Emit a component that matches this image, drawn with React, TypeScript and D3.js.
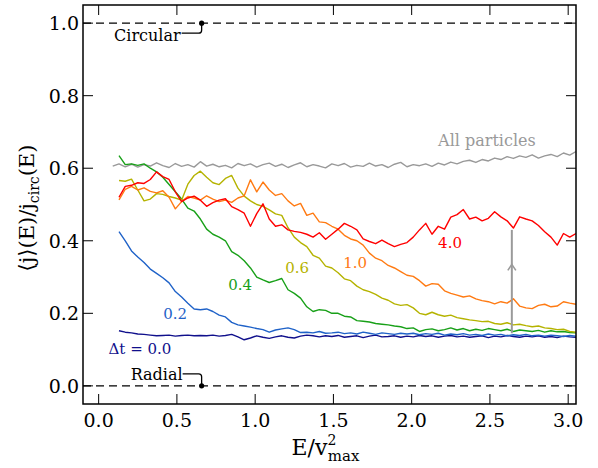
import React from "react";
import * as d3 from "d3";

// E grid: Δt curves start at 0.13, "All particles" at 0.09, step 0.04
const E_START = 0.13;
const GRAY_START = 0.09;
const E_STEP = 0.04;

const ALL_PARTICLES = [0.606,0.612,0.604,0.611,0.603,0.61,0.606,0.615,0.607,0.602,
  0.613,0.605,0.61,0.603,0.618,0.606,0.611,0.604,0.608,0.601,
  0.613,0.607,0.612,0.603,0.61,0.614,0.605,0.611,0.602,0.609,
  0.615,0.604,0.61,0.606,0.601,0.612,0.607,0.613,0.603,0.608,
  0.605,0.614,0.606,0.61,0.602,0.611,0.616,0.604,0.61,0.607,
  0.612,0.605,0.614,0.609,0.617,0.612,0.619,0.622,0.616,0.624,
  0.62,0.628,0.624,0.632,0.627,0.634,0.63,0.637,0.628,0.634,
  0.638,0.632,0.642,0.636,0.646];

const DT_00 = [0.152,0.148,0.146,0.143,0.142,0.14,0.138,0.139,0.14,0.137,
  0.139,0.14,0.138,0.139,0.138,0.14,0.137,0.139,0.142,0.135,
  0.127,0.132,0.138,0.134,0.131,0.135,0.138,0.134,0.132,0.137,
  0.14,0.138,0.135,0.138,0.136,0.139,0.134,0.136,0.138,0.133,
  0.137,0.14,0.135,0.136,0.138,0.134,0.137,0.135,0.139,0.136,
  0.138,0.134,0.137,0.139,0.135,0.137,0.134,0.136,0.138,0.133,
  0.137,0.135,0.139,0.136,0.134,0.137,0.135,0.138,0.134,0.136,
  0.133,0.137,0.135,0.134];

const DT_02 = [0.425,0.4,0.372,0.355,0.34,0.322,0.31,0.298,0.284,0.26,
  0.245,0.228,0.212,0.21,0.212,0.205,0.195,0.19,0.175,0.168,
  0.165,0.162,0.158,0.155,0.148,0.154,0.157,0.16,0.155,0.147,
  0.148,0.146,0.15,0.145,0.146,0.148,0.144,0.146,0.143,0.148,
  0.145,0.142,0.146,0.144,0.142,0.145,0.143,0.145,0.141,0.144,
  0.142,0.145,0.14,0.143,0.141,0.144,0.14,0.142,0.139,0.143,
  0.14,0.142,0.138,0.141,0.139,0.142,0.138,0.14,0.137,0.14,
  0.138,0.136,0.139,0.137];

const DT_04 = [0.635,0.61,0.612,0.608,0.612,0.6,0.59,0.575,0.555,0.535,
  0.515,0.49,0.482,0.46,0.432,0.418,0.41,0.4,0.37,0.36,
  0.345,0.325,0.3,0.292,0.285,0.29,0.296,0.265,0.255,0.242,
  0.218,0.205,0.21,0.208,0.2,0.2,0.192,0.19,0.18,0.178,
  0.176,0.172,0.17,0.168,0.165,0.163,0.158,0.16,0.15,0.155,
  0.157,0.152,0.155,0.16,0.154,0.158,0.152,0.156,0.153,0.158,
  0.155,0.152,0.156,0.15,0.154,0.152,0.15,0.153,0.148,0.152,
  0.149,0.15,0.147,0.146];

const DT_06 = [0.566,0.564,0.57,0.54,0.51,0.515,0.53,0.528,0.522,0.518,
  0.512,0.556,0.58,0.592,0.575,0.56,0.555,0.572,0.58,0.545,
  0.523,0.51,0.5,0.495,0.485,0.474,0.47,0.436,0.41,0.395,
  0.384,0.36,0.352,0.33,0.325,0.312,0.295,0.29,0.275,0.265,
  0.26,0.252,0.242,0.236,0.226,0.222,0.224,0.215,0.2,0.196,
  0.203,0.196,0.192,0.195,0.188,0.185,0.182,0.18,0.177,0.178,
  0.172,0.17,0.174,0.168,0.17,0.166,0.163,0.165,0.16,0.158,
  0.155,0.156,0.15,0.148];

const DT_10 = [0.513,0.542,0.55,0.54,0.546,0.536,0.532,0.538,0.52,0.488,
  0.508,0.522,0.518,0.512,0.524,0.515,0.508,0.512,0.506,0.518,
  0.524,0.568,0.535,0.562,0.54,0.525,0.53,0.51,0.496,0.503,
  0.47,0.476,0.452,0.45,0.44,0.432,0.415,0.405,0.4,0.388,
  0.366,0.352,0.345,0.332,0.325,0.315,0.305,0.302,0.29,0.275,
  0.282,0.28,0.262,0.255,0.25,0.245,0.248,0.24,0.235,0.232,
  0.226,0.232,0.228,0.24,0.22,0.215,0.213,0.222,0.225,0.218,
  0.22,0.232,0.228,0.225];

const DT_40 = [0.52,0.55,0.553,0.56,0.558,0.569,0.59,0.577,0.569,0.535,
  0.508,0.518,0.523,0.512,0.495,0.505,0.512,0.516,0.494,0.486,
  0.476,0.44,0.475,0.502,0.46,0.44,0.444,0.43,0.426,0.423,
  0.418,0.41,0.422,0.404,0.418,0.432,0.448,0.44,0.43,0.405,
  0.398,0.392,0.402,0.392,0.384,0.39,0.395,0.41,0.43,0.448,
  0.418,0.44,0.432,0.465,0.472,0.486,0.46,0.465,0.455,0.462,
  0.48,0.466,0.455,0.435,0.466,0.46,0.455,0.442,0.425,0.41,
  0.388,0.42,0.41,0.42];

const X_TICKS = [0, 0.5, 1.0, 1.5, 2.0, 2.5, 3.0];
const Y_TICKS = [0, 0.2, 0.4, 0.6, 0.8, 1.0];

// circular / radial markers
const MARK_E = 0.658;
// arrow between 0.0 and 4.0 curves
const ARROW_E = 2.64;
const ARROW_FROM = 0.145;
const ARROW_TO = 0.43;
const ARROW_HEAD = 0.335;

const series = [
  { name: "All particles", values: ALL_PARTICLES, start: GRAY_START, color: "#999999", lx: 2.169, ly: 0.662 },
  { name: "\u0394t = 0.0", values: DT_00, start: E_START, color: "#10108c", lx: 0.063, ly: 0.088 },
  { name: "0.2", values: DT_02, start: E_START, color: "#1f62c8", lx: 0.413, ly: 0.185 },
  { name: "0.4", values: DT_04, start: E_START, color: "#18a018", lx: 0.828, ly: 0.265 },
  { name: "0.6", values: DT_06, start: E_START, color: "#b5b300", lx: 1.192, ly: 0.312 },
  { name: "1.0", values: DT_10, start: E_START, color: "#ff7a12", lx: 1.563, ly: 0.326 },
  { name: "4.0", values: DT_40, start: E_START, color: "#ff0000", lx: 2.169, ly: 0.381 },
];

const W = 598;
const H = 468;
const margin = { left: 83, right: 22, top: 5, bottom: 64 };
const FONT = "'DejaVu Serif', serif";

export default function App() {
  const x = d3.scaleLinear().domain([-0.1, 3.05]).range([margin.left, W - margin.right]);
  const y = d3.scaleLinear().domain([-0.05, 1.05]).range([H - margin.bottom, margin.top]);
  const [x0, x1] = x.range();
  const [y0, y1] = y.range();

  const pathFor = (s: typeof series[number]) =>
    d3
      .line<number>()
      .x((_, i) => x(s.start + i * E_STEP))
      .y((d) => y(d))(s.values) || "";

  const mx = x(MARK_E);
  const yTop = y(1);
  const yBot = y(0);
  const ax = x(ARROW_E);
  const ah = y(ARROW_HEAD);

  return (
    <svg width={W} height={H} style={{ position: "absolute", left: 0, top: 0, background: "#fff" }}>
      <defs>
        <clipPath id="plot">
          <rect x={x0} y={y1} width={x1 - x0} height={y0 - y1} />
        </clipPath>
      </defs>

      {/* reference dashed lines */}
      <g stroke="#000" strokeWidth={1.4} strokeDasharray="8,5">
        <line x1={x0} x2={x1} y1={yTop} y2={yTop} />
        <line x1={x0} x2={x1} y1={yBot} y2={yBot} />
      </g>

      {/* curves */}
      <g clipPath="url(#plot)" fill="none" strokeWidth={1.4} strokeLinejoin="round">
        {series.map((s) => (
          <path key={s.name} d={pathFor(s)} stroke={s.color} />
        ))}
      </g>

      {/* arrow */}
      <g stroke="#9a9a9a" strokeWidth={2} fill="none">
        <line x1={ax} x2={ax} y1={y(ARROW_FROM)} y2={y(ARROW_TO)} />
        <path d={`M${ax - 4},${ah + 6} L${ax},${ah} L${ax + 4},${ah + 6}`} strokeWidth={1.6} />
      </g>

      {/* curve labels */}
      <g fontFamily={FONT}>
        {series.map((s) => (
          <text key={s.name} x={x(s.lx)} y={y(s.ly)} fill={s.color} fontSize={s.name === "All particles" ? 16 : 15}>
            {s.name}
          </text>
        ))}
      </g>

      {/* Circular / Radial markers */}
      <g stroke="#000" strokeWidth={1.3} fill="none">
        <path d={`M${mx - 20},${yTop + 10} H${mx - 3} Q${mx},${yTop + 10} ${mx},${yTop + 7} V${yTop}`} />
        <path d={`M${mx - 19},${yBot - 12} H${mx - 3} Q${mx},${yBot - 12} ${mx},${yBot - 9} V${yBot}`} />
      </g>
      <circle cx={mx} cy={yTop} r={2.6} fill="#000" />
      <circle cx={mx} cy={yBot} r={2.6} fill="#000" />
      <g fontFamily={FONT} fontSize={16} fill="#000" textAnchor="end">
        <text x={mx - 21} y={yTop + 18}>Circular</text>
        <text x={mx - 19} y={yBot - 6}>Radial</text>
      </g>

      {/* frame */}
      <rect x={x0} y={y1} width={x1 - x0} height={y0 - y1} fill="none" stroke="#000" strokeWidth={1.5} />

      {/* ticks */}
      <g stroke="#000" strokeWidth={1}>
        {X_TICKS.map((t) => (
          <g key={"xt" + t}>
            <line x1={x(t)} x2={x(t)} y1={y0} y2={y0 - 10} />
            <line x1={x(t)} x2={x(t)} y1={y1} y2={y1 + 10} />
          </g>
        ))}
        {Y_TICKS.map((t) => (
          <g key={"yt" + t}>
            <line x1={x0} x2={x0 + 10} y1={y(t)} y2={y(t)} />
            <line x1={x1} x2={x1 - 10} y1={y(t)} y2={y(t)} />
          </g>
        ))}
      </g>

      {/* tick labels */}
      <g fontFamily={FONT} fontSize={19} fill="#000">
        {X_TICKS.map((t) => (
          <text key={"xl" + t} x={x(t)} y={y0 + 23} textAnchor="middle">
            {d3.format(".1f")(t)}
          </text>
        ))}
        {Y_TICKS.map((t) => (
          <text key={"yl" + t} x={x0 - 4} y={y(t)} dy="0.36em" textAnchor="end">
            {d3.format(".1f")(t)}
          </text>
        ))}
      </g>

      {/* axis titles */}
      <text x={(x0 + x1) / 2 - 4} y={455} textAnchor="middle" fontFamily={FONT} fontSize={22}>
        E/v
        <tspan dy={-10} fontSize={14}>2</tspan>
        <tspan dx={-8.5} dy={16} fontSize={15}>max</tspan>
      </text>
      <text
        transform={`translate(34,208) rotate(-90)`}
        textAnchor="middle"
        fontFamily={FONT}
        fontSize={21}
      >
        {"\u27E8j\u27E9(E)/j"}
        <tspan dy={5} fontSize={14}>circ</tspan>
        <tspan dy={-5}>(E)</tspan>
      </text>
    </svg>
  );
}
